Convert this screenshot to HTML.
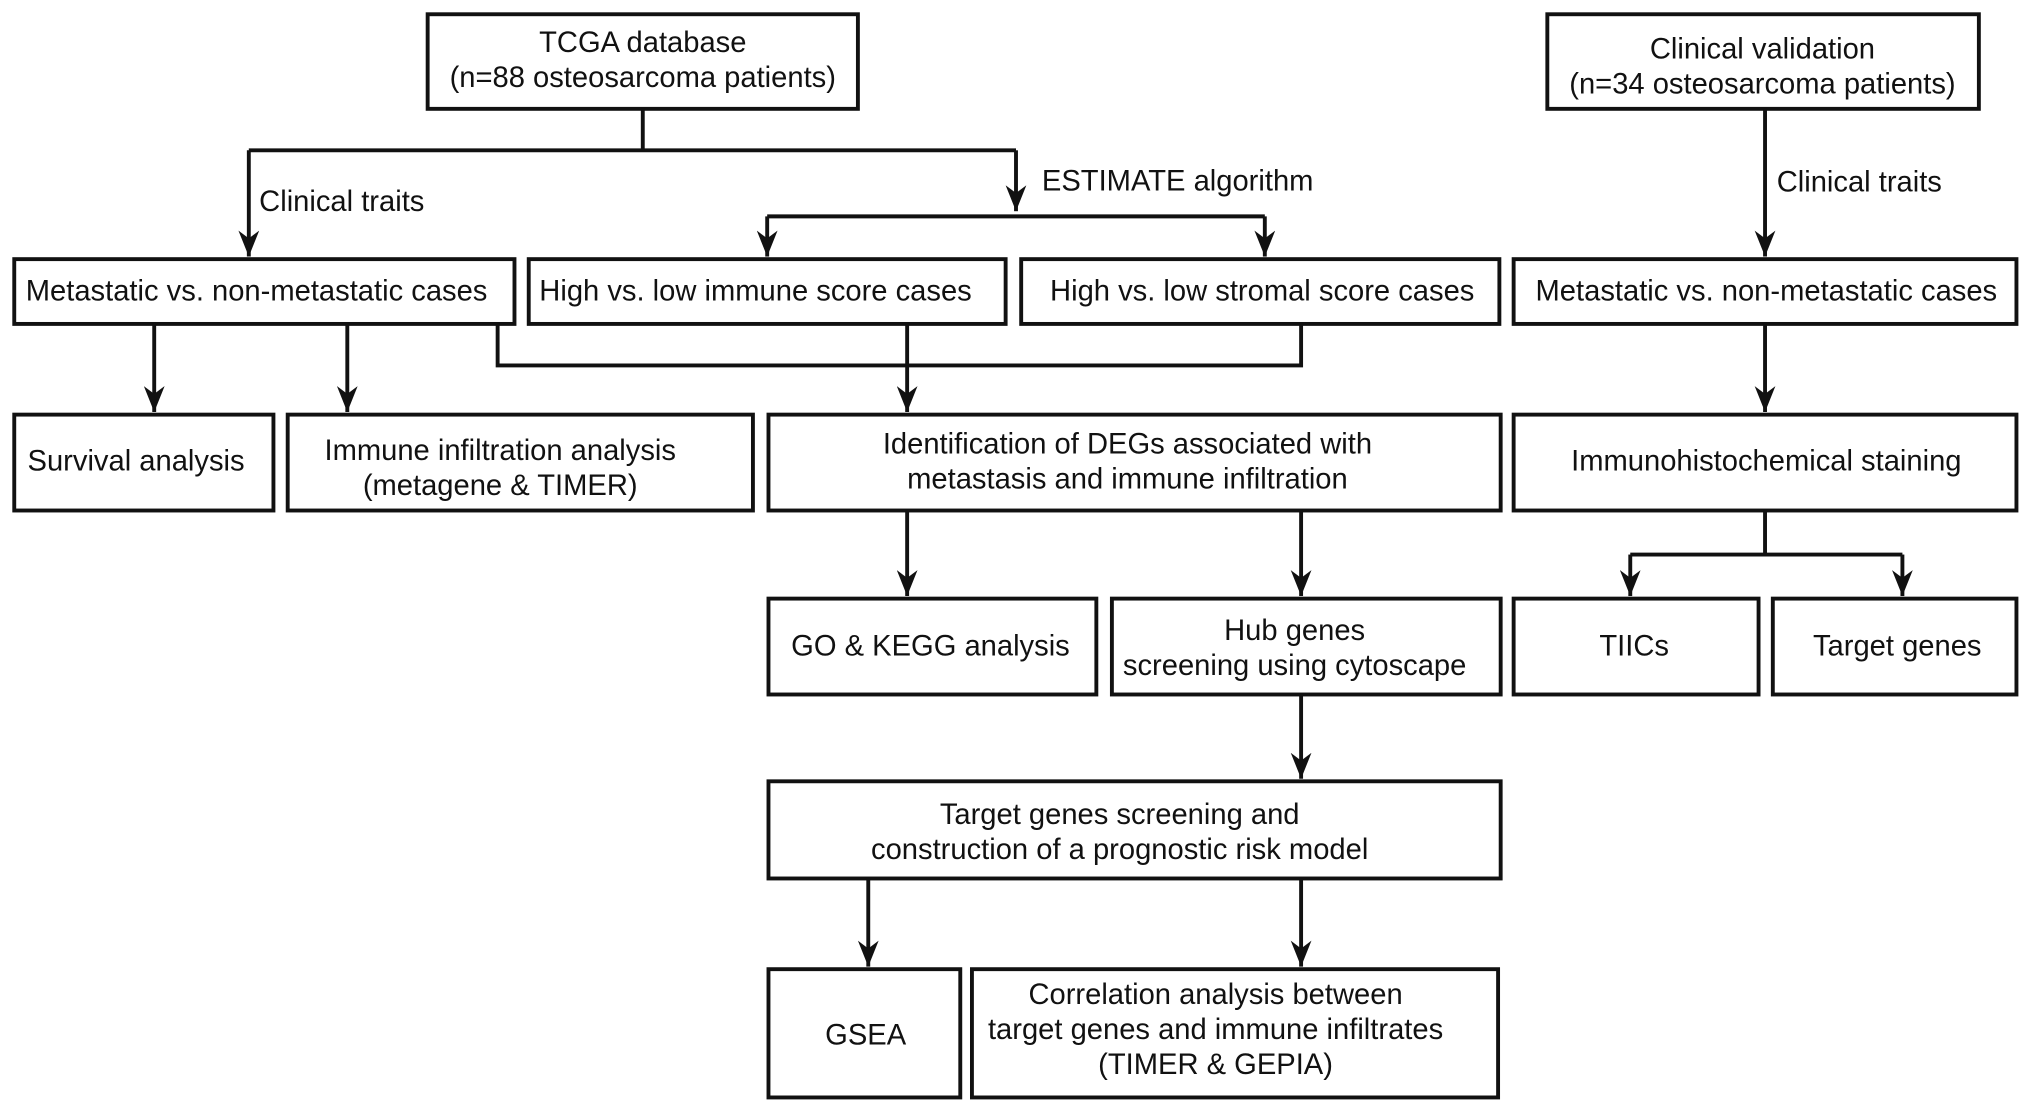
<!DOCTYPE html>
<html><head><meta charset="utf-8"><style>
html,body{margin:0;padding:0;background:#fff;}
svg{display:block;}
text{font-family:"Liberation Sans",Arial,sans-serif;font-size:22.5px;fill:#111;}
</style></head><body>
<svg width="2032" height="1113" viewBox="0 0 1568 859" preserveAspectRatio="none" xmlns="http://www.w3.org/2000/svg">
<defs>
<marker id="a" markerWidth="20" markerHeight="16" refX="20" refY="8" orient="auto" markerUnits="userSpaceOnUse" viewBox="0 0 20 16">
<path d="M0,0 L20,8 L0,16 L6,8 Z" fill="#111"/>
</marker>
</defs>
<g fill="none" stroke="#111" stroke-width="3">
<rect x="330" y="11" width="332" height="73"/>
<rect x="1194" y="11" width="333" height="73"/>
<rect x="11" y="200" width="386" height="50"/>
<rect x="408" y="200" width="368" height="50"/>
<rect x="788" y="200" width="369" height="50"/>
<rect x="1168" y="200" width="388" height="50"/>
<rect x="11" y="320" width="200" height="74"/>
<rect x="222" y="320" width="359" height="74"/>
<rect x="593" y="320" width="565" height="74"/>
<rect x="1168" y="320" width="388" height="74"/>
<rect x="593" y="462" width="253" height="74"/>
<rect x="858" y="462" width="300" height="74"/>
<rect x="1168" y="462" width="189" height="74"/>
<rect x="1368" y="462" width="188" height="74"/>
<rect x="593" y="603" width="565" height="75"/>
<rect x="593" y="748" width="148" height="99"/>
<rect x="750" y="748" width="406" height="99"/>
<path d="M496,84 V116 M192,116 H784"/>
<path d="M192,116 V198" marker-end="url(#a)"/>
<path d="M784,116 V163" marker-end="url(#a)"/>
<path d="M592,167 H976"/>
<path d="M592,167 V198" marker-end="url(#a)"/>
<path d="M976,167 V198" marker-end="url(#a)"/>
<path d="M119,250 V318" marker-end="url(#a)"/>
<path d="M268,250 V318" marker-end="url(#a)"/>
<path d="M384,250 V282 H1004 V250"/>
<path d="M700,250 V318" marker-end="url(#a)"/>
<path d="M1362,84 V198" marker-end="url(#a)"/>
<path d="M1362,250 V318" marker-end="url(#a)"/>
<path d="M1362,394 V428 M1258,428 H1468"/>
<path d="M1258,428 V460" marker-end="url(#a)"/>
<path d="M1468,428 V460" marker-end="url(#a)"/>
<path d="M700,394 V460" marker-end="url(#a)"/>
<path d="M1004,394 V460" marker-end="url(#a)"/>
<path d="M1004,536 V601" marker-end="url(#a)"/>
<path d="M670,678 V746" marker-end="url(#a)"/>
<path d="M1004,678 V746" marker-end="url(#a)"/>
</g>
<g text-anchor="middle">
<text x="496" y="40">TCGA database</text>
<text x="496" y="67">(n=88 osteosarcoma patients)</text>
<text x="1360" y="45">Clinical validation</text>
<text x="1360" y="72">(n=34 osteosarcoma patients)</text>
<text x="198" y="232">Metastatic vs. non-metastatic cases</text>
<text x="583" y="232">High vs. low immune score cases</text>
<text x="974" y="232">High vs. low stromal score cases</text>
<text x="1363" y="232">Metastatic vs. non-metastatic cases</text>
<text x="105" y="363">Survival analysis</text>
<text x="386" y="355">Immune infiltration analysis</text>
<text x="386" y="382">(metagene &amp; TIMER)</text>
<text x="870" y="350">Identification of DEGs associated with</text>
<text x="870" y="377">metastasis and immune infiltration</text>
<text x="1363" y="363">Immunohistochemical staining</text>
<text x="718" y="506">GO &amp; KEGG analysis</text>
<text x="999" y="494">Hub genes</text>
<text x="999" y="521">screening using cytoscape</text>
<text x="1261" y="506">TIICs</text>
<text x="1464" y="506">Target genes</text>
<text x="864" y="636">Target genes screening and</text>
<text x="864" y="663">construction of a prognostic risk model</text>
<text x="668" y="806">GSEA</text>
<text x="938" y="775">Correlation analysis between</text>
<text x="938" y="802">target genes and immune infiltrates</text>
<text x="938" y="829">(TIMER &amp; GEPIA)</text>
</g>
<text x="200" y="163">Clinical traits</text>
<text x="804" y="147">ESTIMATE algorithm</text>
<text x="1371" y="148">Clinical traits</text>
</svg>
</body></html>
